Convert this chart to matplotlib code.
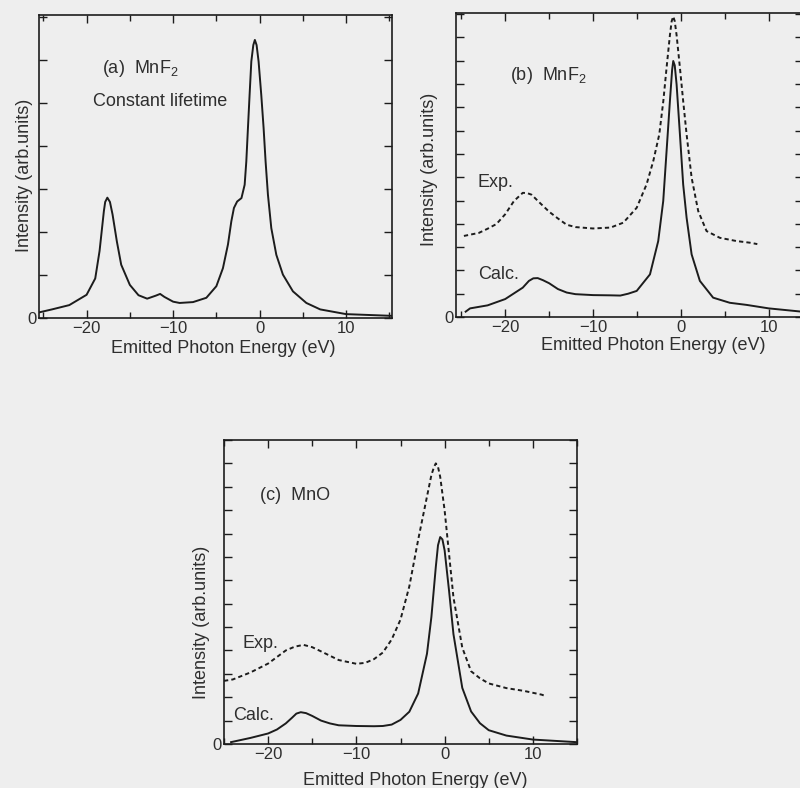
import matplotlib
matplotlib.use("Agg")
import matplotlib.pyplot as plt
from matplotlib.ticker import MultipleLocator

# panel (a) MnF2, constant lifetime
a_x = [-25.5, -24, -22, -20, -19, -18.5, -18, -17.85, -17.6, -17.3, -17, -16.5, -16, -15, -14, -13,
       -12, -11.5, -11, -10, -9.25, -7.7, -6.16, -5.0, -4.24, -3.66, -3.27, -2.97, -2.6, -2.1,
       -1.73, -1.54, -1.35, -1.16, -0.96, -0.73, -0.55, -0.35, -0.12, 0.19, 0.46, 0.69, 0.96,
       1.35, 1.93, 2.69, 3.85, 5.4, 7, 10, 15.3]
a_y = [0.13, 0.2, 0.3, 0.54, 0.92, 1.56, 2.49, 2.7, 2.8, 2.7, 2.41, 1.78, 1.24, 0.77, 0.53, 0.45,
       0.52, 0.56, 0.49, 0.38, 0.35, 0.37, 0.47, 0.74, 1.16, 1.71, 2.25, 2.56, 2.71, 2.79,
       3.1, 3.64, 4.42, 5.19, 5.97, 6.35, 6.47, 6.35, 5.97, 5.19, 4.42, 3.64, 2.87,
       2.09, 1.47, 1.01, 0.62, 0.35, 0.2, 0.09, 0.05]

# panel (b) MnF2, calc and exp
b_calc_x = [-24.5, -24, -22, -20, -18, -17.3, -16.8, -16.3, -15.7, -15, -14, -13, -12, -10, -8,
            -6.9, -6, -5.03, -3.52, -2.58, -2.01, -1.63, -1.25, -1.0, -0.87, -0.7, -0.49, -0.11,
            0.26, 0.65, 1.22, 2.16, 3.67, 5.57, 7.47, 10, 14]
b_calc_y = [0.23, 0.37, 0.5, 0.77, 1.26, 1.55, 1.66, 1.67, 1.58, 1.45, 1.2, 1.05, 0.98, 0.94, 0.93,
            0.92, 1.0, 1.12, 1.83, 3.26, 4.98, 7.12, 9.27, 10.6, 10.99, 10.8, 9.99, 7.84,
            5.69, 4.26, 2.69, 1.55, 0.83, 0.61, 0.52, 0.37, 0.22]
b_exp_x = [-24.7, -23, -22, -21, -20, -19, -18, -17.5, -17, -16, -15, -14, -13, -12, -10, -8,
           -6.55, -5.03, -3.9, -3.14, -2.46, -2.0, -1.63, -1.25, -1.05, -0.87, -0.7, -0.49, -0.11,
           0.26, 0.65, 1.22, 1.97, 2.92, 4.43, 6.33, 7.84, 8.7]
b_exp_y = [3.48, 3.61, 3.79, 3.99, 4.41, 4.98, 5.33, 5.32, 5.25, 4.88, 4.52, 4.23, 3.96, 3.86, 3.8,
           3.84, 4.05, 4.69, 5.7, 6.7, 7.84, 9.27, 10.7, 12.1, 12.7, 12.9, 12.7, 12.1, 10.7,
           9.27, 7.84, 5.98, 4.55, 3.69, 3.4, 3.26, 3.19, 3.13]

# panel (c) MnO, calc and exp
c_calc_x = [-24.2, -22, -20, -19, -18, -17.3, -16.8, -16.3, -15.7, -15, -14, -13, -12, -10, -8, -7,
            -6, -5, -4, -3, -2, -1.5, -1, -0.75, -0.5, -0.25, 0, 0.5, 1, 2, 3, 4, 5, 7, 10, 14.9]
c_calc_y = [0.08, 0.26, 0.45, 0.62, 0.88, 1.12, 1.3, 1.36, 1.32, 1.2, 1.0, 0.88, 0.8, 0.77, 0.76,
            0.77, 0.83, 1.03, 1.38, 2.16, 3.86, 5.43, 7.57, 8.5, 8.85, 8.75, 8.28, 6.56, 4.7,
            2.4, 1.39, 0.89, 0.59, 0.36, 0.19, 0.08]
c_exp_x = [-25, -24, -22, -20, -18, -17, -16, -15, -14, -12, -10, -9, -8, -7, -6, -5, -4, -3, -2,
           -1.5, -1.2, -1, -0.75, -0.5, 0, 0.5, 1, 2, 3, 4, 5, 7, 9, 11, 11.5]
c_exp_y = [2.7, 2.76, 3.06, 3.44, 4.0, 4.16, 4.24, 4.14, 3.96, 3.59, 3.43, 3.47, 3.63, 3.91, 4.47,
           5.32, 6.74, 8.73, 10.58, 11.5, 11.85, 12.0, 11.85, 11.42, 9.99, 8.13, 6.27, 4.12, 3.11,
           2.81, 2.59, 2.39, 2.27, 2.11, 2.04]

bg = "#eeeeee"
ink = "#1c1c1c"
txt = "#2e2e2e"

plt.rcParams["font.family"] = ["Liberation Sans", "DejaVu Sans"]
plt.rcParams["mathtext.default"] = "regular"

W, H = 800, 788
fig = plt.figure(figsize=(8, 7.88), dpi=100, facecolor=bg)


def box(l, t, r, b):
    return [l / W, 1 - b / H, (r - l) / W, (b - t) / H]


def style(ax, xlim, ytop, ylab_xy, xlab_xy):
    ax.set_facecolor(bg)
    ax.set_xlim(*xlim)
    ax.set_ylim(0, ytop)
    ax.xaxis.set_major_locator(MultipleLocator(10))
    ax.xaxis.set_minor_locator(MultipleLocator(5))
    nt = int(ytop)
    ax.set_yticks(range(nt + 1))
    ax.set_yticklabels(["0"] + [""] * nt)
    ax.tick_params(which="both", direction="in", top=True, right=True, color=ink,
                   labelsize=12, labelcolor=txt, pad=2)
    ax.tick_params(which="major", length=6, width=1)
    ax.tick_params(which="minor", length=4, width=1)
    for s in ax.spines.values():
        s.set_color(ink)
        s.set_linewidth(1.2)
    ax.set_xlabel("Emitted Photon Energy (eV)", fontsize=13, color=txt)
    ax.set_ylabel("Intensity (arb.units)", fontsize=13, color=txt)
    ax.yaxis.set_label_coords(*ylab_xy)
    ax.xaxis.set_label_coords(*xlab_xy)


# (a)
ax1 = fig.add_axes(box(39, 15, 392, 318))
ax1.plot(a_x, a_y, color=ink, lw=1.4)
style(ax1, (-25.5, 15.3), 7.05, (-0.017, 0.472), (0.521, -0.073))
ax1.text(0.178, 0.825, "(a)  MnF$_2$", transform=ax1.transAxes, fontsize=13, color=txt, va="center")
ax1.text(0.153, 0.713, "Constant lifetime", transform=ax1.transAxes, fontsize=13, color=txt,
         va="center")

# (b)
ax2 = fig.add_axes(box(456, 13, 803, 317))
ax2.plot(b_calc_x, b_calc_y, color=ink, lw=1.4)
ax2.plot(b_exp_x, b_exp_y, color=ink, lw=1.4, dashes=(2.2, 1.6))
style(ax2, (-25.6, 13.9), 13.05, (-0.052, 0.484), (0.568, -0.066))
ax2.text(0.156, 0.796, "(b)  MnF$_2$", transform=ax2.transAxes, fontsize=13, color=txt, va="center")
ax2.text(0.061, 0.444, "Exp.", transform=ax2.transAxes, fontsize=13, color=txt, va="center")
ax2.text(0.063, 0.141, "Calc.", transform=ax2.transAxes, fontsize=13, color=txt, va="center")

# (c)
ax3 = fig.add_axes(box(224, 440, 577, 744))
ax3.plot(c_calc_x, c_calc_y, color=ink, lw=1.4)
ax3.plot(c_exp_x, c_exp_y, color=ink, lw=1.4, dashes=(2.2, 1.6))
style(ax3, (-25, 15), 13.0, (-0.04, 0.401), (0.541, -0.092))
ax3.text(0.102, 0.819, "(c)  MnO", transform=ax3.transAxes, fontsize=13, color=txt, va="center")
ax3.text(0.051, 0.332, "Exp.", transform=ax3.transAxes, fontsize=13, color=txt, va="center")
ax3.text(0.025, 0.095, "Calc.", transform=ax3.transAxes, fontsize=13, color=txt, va="center")

fig.savefig("out.png", dpi=100, facecolor=bg)
